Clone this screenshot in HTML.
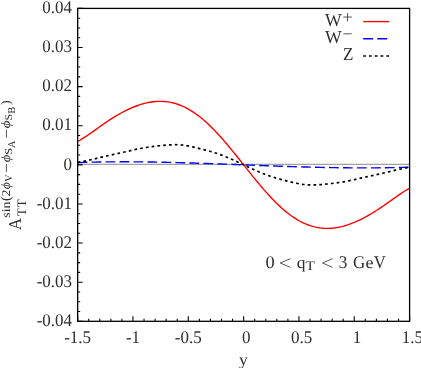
<!DOCTYPE html>
<html><head><meta charset="utf-8"><style>
html,body{margin:0;padding:0;background:#fff;}
svg{display:block;will-change:transform;transform:translateZ(0)}
text{font-family:"Liberation Serif",serif;font-size:17px;fill:#2e2e2e;text-rendering:geometricPrecision}
</style></head><body>
<svg width="421" height="368" viewBox="0 0 421 368">
<rect width="421" height="368" fill="#fff"/>
<line x1="77.65" y1="164.4" x2="409.6" y2="164.4" stroke="#a2a2a2" stroke-width="1.15"/>
<path d="M77.65,141.50 L79.65,140.40 L81.65,139.21 L83.65,137.95 L85.65,136.64 L87.65,135.28 L89.65,133.89 L91.65,132.48 L93.65,131.06 L95.65,129.63 L97.65,128.20 L99.65,126.78 L101.65,125.38 L103.65,123.99 L105.65,122.62 L107.65,121.27 L109.65,119.95 L111.64,118.67 L113.64,117.41 L115.64,116.19 L117.64,115.00 L119.64,113.86 L121.64,112.75 L123.64,111.68 L125.64,110.66 L127.64,109.68 L129.64,108.75 L131.64,107.86 L133.64,107.02 L135.64,106.24 L137.64,105.50 L139.64,104.82 L141.64,104.20 L143.64,103.63 L145.64,103.12 L147.64,102.67 L149.64,102.28 L151.64,101.95 L153.64,101.69 L155.64,101.50 L157.64,101.38 L159.64,101.33 L161.64,101.34 L163.64,101.44 L165.64,101.61 L167.64,101.85 L169.64,102.17 L171.64,102.57 L173.64,103.05 L175.64,103.61 L177.63,104.25 L179.63,104.97 L181.63,105.78 L183.63,106.67 L185.63,107.64 L187.63,108.69 L189.63,109.82 L191.63,111.04 L193.63,112.34 L195.63,113.71 L197.63,115.17 L199.63,116.70 L201.63,118.31 L203.63,119.99 L205.63,121.74 L207.63,123.57 L209.63,125.46 L211.63,127.42 L213.63,129.44 L215.63,131.52 L217.63,133.65 L219.63,135.84 L221.63,138.08 L223.63,140.36 L225.63,142.69 L227.63,145.05 L229.63,147.45 L231.63,149.88 L233.63,152.33 L235.63,154.81 L237.63,157.30 L239.63,159.81 L241.63,162.33 L243.63,164.85 L245.62,167.37 L247.62,169.89 L249.62,172.40 L251.62,174.89 L253.62,177.37 L255.62,179.82 L257.62,182.25 L259.62,184.65 L261.62,187.01 L263.62,189.34 L265.62,191.62 L267.62,193.86 L269.62,196.05 L271.62,198.18 L273.62,200.26 L275.62,202.28 L277.62,204.24 L279.62,206.13 L281.62,207.96 L283.62,209.71 L285.62,211.39 L287.62,213.00 L289.62,214.53 L291.62,215.99 L293.62,217.36 L295.62,218.66 L297.62,219.88 L299.62,221.01 L301.62,222.06 L303.62,223.03 L305.62,223.92 L307.62,224.73 L309.62,225.45 L311.61,226.09 L313.61,226.65 L315.61,227.13 L317.61,227.53 L319.61,227.85 L321.61,228.09 L323.61,228.26 L325.61,228.36 L327.61,228.37 L329.61,228.32 L331.61,228.20 L333.61,228.01 L335.61,227.75 L337.61,227.42 L339.61,227.03 L341.61,226.58 L343.61,226.07 L345.61,225.50 L347.61,224.88 L349.61,224.20 L351.61,223.46 L353.61,222.68 L355.61,221.84 L357.61,220.95 L359.61,220.02 L361.61,219.04 L363.61,218.02 L365.61,216.95 L367.61,215.84 L369.61,214.70 L371.61,213.51 L373.61,212.29 L375.61,211.03 L377.60,209.75 L379.60,208.43 L381.60,207.08 L383.60,205.71 L385.60,204.32 L387.60,202.92 L389.60,201.50 L391.60,200.07 L393.60,198.64 L395.60,197.22 L397.60,195.81 L399.60,194.42 L401.60,193.06 L403.60,191.75 L405.60,190.49 L407.60,189.30 L409.60,188.20" fill="none" stroke="#ff0000" stroke-width="1.4"/>
<path d="M77.65,162.56 L79.65,162.50 L81.65,162.43 L83.65,162.37 L85.65,162.31 L87.65,162.26 L89.65,162.21 L91.65,162.16 L93.65,162.12 L95.65,162.08 L97.65,162.04 L99.65,162.00 L101.65,161.97 L103.65,161.94 L105.65,161.92 L107.65,161.89 L109.65,161.87 L111.64,161.85 L113.64,161.84 L115.64,161.83 L117.64,161.82 L119.64,161.81 L121.64,161.81 L123.64,161.81 L125.64,161.81 L127.64,161.81 L129.64,161.82 L131.64,161.83 L133.64,161.84 L135.64,161.85 L137.64,161.87 L139.64,161.88 L141.64,161.90 L143.64,161.93 L145.64,161.95 L147.64,161.98 L149.64,162.01 L151.64,162.04 L153.64,162.07 L155.64,162.10 L157.64,162.14 L159.64,162.18 L161.64,162.22 L163.64,162.26 L165.64,162.30 L167.64,162.34 L169.64,162.39 L171.64,162.44 L173.64,162.49 L175.64,162.54 L177.63,162.59 L179.63,162.65 L181.63,162.70 L183.63,162.76 L185.63,162.81 L187.63,162.87 L189.63,162.93 L191.63,162.99 L193.63,163.06 L195.63,163.12 L197.63,163.18 L199.63,163.25 L201.63,163.32 L203.63,163.38 L205.63,163.45 L207.63,163.52 L209.63,163.59 L211.63,163.66 L213.63,163.73 L215.63,163.80 L217.63,163.88 L219.63,163.95 L221.63,164.02 L223.63,164.10 L225.63,164.17 L227.63,164.24 L229.63,164.32 L231.63,164.39 L233.63,164.47 L235.63,164.55 L237.63,164.62 L239.63,164.70 L241.63,164.77 L243.63,164.85 L245.62,164.93 L247.62,165.00 L249.62,165.08 L251.62,165.15 L253.62,165.23 L255.62,165.31 L257.62,165.38 L259.62,165.46 L261.62,165.53 L263.62,165.60 L265.62,165.68 L267.62,165.75 L269.62,165.82 L271.62,165.90 L273.62,165.97 L275.62,166.04 L277.62,166.11 L279.62,166.18 L281.62,166.25 L283.62,166.32 L285.62,166.38 L287.62,166.45 L289.62,166.52 L291.62,166.58 L293.62,166.64 L295.62,166.71 L297.62,166.77 L299.62,166.83 L301.62,166.89 L303.62,166.94 L305.62,167.00 L307.62,167.05 L309.62,167.11 L311.61,167.16 L313.61,167.21 L315.61,167.26 L317.61,167.31 L319.61,167.36 L321.61,167.40 L323.61,167.44 L325.61,167.48 L327.61,167.52 L329.61,167.56 L331.61,167.60 L333.61,167.63 L335.61,167.66 L337.61,167.69 L339.61,167.72 L341.61,167.75 L343.61,167.77 L345.61,167.80 L347.61,167.82 L349.61,167.83 L351.61,167.85 L353.61,167.86 L355.61,167.87 L357.61,167.88 L359.61,167.89 L361.61,167.89 L363.61,167.89 L365.61,167.89 L367.61,167.89 L369.61,167.88 L371.61,167.87 L373.61,167.86 L375.61,167.85 L377.60,167.83 L379.60,167.81 L381.60,167.78 L383.60,167.76 L385.60,167.73 L387.60,167.70 L389.60,167.66 L391.60,167.62 L393.60,167.58 L395.60,167.54 L397.60,167.49 L399.60,167.44 L401.60,167.39 L403.60,167.33 L405.60,167.27 L407.60,167.20 L409.60,167.14" fill="none" stroke="#0000ff" stroke-width="1.4" stroke-dasharray="9.7 4.27"/>
<path d="M77.65,162.39 L79.65,162.05 L81.65,161.69 L83.65,161.30 L85.65,160.89 L87.65,160.46 L89.65,160.01 L91.65,159.55 L93.65,159.08 L95.65,158.60 L97.65,158.11 L99.65,157.63 L101.65,157.14 L103.65,156.66 L105.65,156.19 L107.65,155.72 L109.65,155.27 L111.64,154.83 L113.64,154.40 L115.64,153.97 L117.64,153.54 L119.64,153.11 L121.64,152.67 L123.64,152.23 L125.64,151.77 L127.64,151.31 L129.64,150.84 L131.64,150.37 L133.64,149.90 L135.64,149.45 L137.64,149.02 L139.64,148.60 L141.64,148.22 L143.64,147.88 L145.64,147.56 L147.64,147.27 L149.64,146.99 L151.64,146.73 L153.64,146.46 L155.64,146.20 L157.64,145.96 L159.64,145.72 L161.64,145.51 L163.64,145.31 L165.64,145.15 L167.64,145.01 L169.64,144.89 L171.64,144.80 L173.64,144.74 L175.64,144.72 L177.63,144.75 L179.63,144.83 L181.63,144.99 L183.63,145.20 L185.63,145.48 L187.63,145.81 L189.63,146.20 L191.63,146.63 L193.63,147.09 L195.63,147.58 L197.63,148.09 L199.63,148.61 L201.63,149.12 L203.63,149.63 L205.63,150.14 L207.63,150.67 L209.63,151.22 L211.63,151.80 L213.63,152.41 L215.63,153.04 L217.63,153.71 L219.63,154.41 L221.63,155.14 L223.63,155.91 L225.63,156.70 L227.63,157.52 L229.63,158.38 L231.63,159.25 L233.63,160.15 L235.63,161.07 L237.63,162.00 L239.63,162.94 L241.63,163.90 L243.63,164.85 L245.62,165.80 L247.62,166.76 L249.62,167.70 L251.62,168.63 L253.62,169.55 L255.62,170.45 L257.62,171.32 L259.62,172.18 L261.62,173.00 L263.62,173.79 L265.62,174.56 L267.62,175.29 L269.62,175.99 L271.62,176.66 L273.62,177.29 L275.62,177.90 L277.62,178.48 L279.62,179.03 L281.62,179.56 L283.62,180.07 L285.62,180.58 L287.62,181.09 L289.62,181.61 L291.62,182.12 L293.62,182.61 L295.62,183.07 L297.62,183.50 L299.62,183.89 L301.62,184.22 L303.62,184.50 L305.62,184.71 L307.62,184.87 L309.62,184.95 L311.61,184.98 L313.61,184.96 L315.61,184.90 L317.61,184.81 L319.61,184.69 L321.61,184.55 L323.61,184.39 L325.61,184.19 L327.61,183.98 L329.61,183.74 L331.61,183.50 L333.61,183.24 L335.61,182.97 L337.61,182.71 L339.61,182.43 L341.61,182.14 L343.61,181.82 L345.61,181.48 L347.61,181.10 L349.61,180.68 L351.61,180.25 L353.61,179.80 L355.61,179.33 L357.61,178.86 L359.61,178.39 L361.61,177.93 L363.61,177.47 L365.61,177.03 L367.61,176.59 L369.61,176.16 L371.61,175.73 L373.61,175.30 L375.61,174.87 L377.60,174.43 L379.60,173.98 L381.60,173.51 L383.60,173.04 L385.60,172.56 L387.60,172.07 L389.60,171.59 L391.60,171.10 L393.60,170.62 L395.60,170.15 L397.60,169.69 L399.60,169.24 L401.60,168.81 L403.60,168.40 L405.60,168.01 L407.60,167.65 L409.60,167.31" fill="none" stroke="#000" stroke-width="1.7" stroke-dasharray="2.7 3.12"/>
<rect x="77.65" y="8.4" width="331.95" height="312.90" fill="none" stroke="#000" stroke-width="1.3"/>
<path d="M77.65,321.30h5.0M77.65,311.52h2.5M77.65,301.74h2.5M77.65,291.97h2.5M77.65,282.19h5.0M77.65,272.41h2.5M77.65,262.63h2.5M77.65,252.85h2.5M77.65,243.07h5.0M77.65,233.30h2.5M77.65,223.52h2.5M77.65,213.74h2.5M77.65,203.96h5.0M77.65,194.18h2.5M77.65,184.41h2.5M77.65,174.63h2.5M77.65,164.85h5.0M77.65,155.07h2.5M77.65,145.29h2.5M77.65,135.52h2.5M77.65,125.74h5.0M77.65,115.96h2.5M77.65,106.18h2.5M77.65,96.40h2.5M77.65,86.62h5.0M77.65,76.85h2.5M77.65,67.07h2.5M77.65,57.29h2.5M77.65,47.51h5.0M77.65,37.73h2.5M77.65,27.96h2.5M77.65,18.18h2.5M77.65,8.40h5.0M77.65,321.30v-5.0M88.72,321.30v-2.5M99.78,321.30v-2.5M110.85,321.30v-2.5M121.91,321.30v-2.5M132.98,321.30v-5.0M144.04,321.30v-2.5M155.11,321.30v-2.5M166.17,321.30v-2.5M177.24,321.30v-2.5M188.30,321.30v-5.0M199.37,321.30v-2.5M210.43,321.30v-2.5M221.50,321.30v-2.5M232.56,321.30v-2.5M243.63,321.30v-5.0M254.69,321.30v-2.5M265.76,321.30v-2.5M276.82,321.30v-2.5M287.89,321.30v-2.5M298.95,321.30v-5.0M310.02,321.30v-2.5M321.08,321.30v-2.5M332.15,321.30v-2.5M343.21,321.30v-2.5M354.28,321.30v-5.0M365.34,321.30v-2.5M376.41,321.30v-2.5M387.47,321.30v-2.5M398.54,321.30v-2.5M409.60,321.30v-5.0" fill="none" stroke="#000" stroke-width="1.1"/>
<text transform="translate(72.1,326.00) scale(1,1.05)" text-anchor="end">-0.04</text><text transform="translate(72.1,286.89) scale(1,1.05)" text-anchor="end">-0.03</text><text transform="translate(72.1,247.77) scale(1,1.05)" text-anchor="end">-0.02</text><text transform="translate(72.1,208.66) scale(1,1.05)" text-anchor="end">-0.01</text><text transform="translate(72.1,169.55) scale(1,1.05)" text-anchor="end">0</text><text transform="translate(72.1,130.44) scale(1,1.05)" text-anchor="end">0.01</text><text transform="translate(72.1,91.33) scale(1,1.05)" text-anchor="end">0.02</text><text transform="translate(72.1,52.21) scale(1,1.05)" text-anchor="end">0.03</text><text transform="translate(72.1,13.10) scale(1,1.05)" text-anchor="end">0.04</text>
<text transform="translate(77.65,343.0) scale(1,1.05)" text-anchor="middle">-1.5</text><text transform="translate(132.98,343.0) scale(1,1.05)" text-anchor="middle">-1</text><text transform="translate(188.30,343.0) scale(1,1.05)" text-anchor="middle">-0.5</text><text transform="translate(246.33,343.0) scale(1,1.05)" text-anchor="middle">0</text><text transform="translate(301.65,343.0) scale(1,1.05)" text-anchor="middle">0.5</text><text transform="translate(356.98,343.0) scale(1,1.05)" text-anchor="middle">1</text><text transform="translate(412.30,343.0) scale(1,1.05)" text-anchor="middle">1.5</text>
<text transform="translate(243.4,365.2) scale(1.03,0.97)" text-anchor="middle">y</text>
<!-- legend -->
<text transform="translate(325.10,26.25) scale(1.044,1.07)" x="-0.02" y="0" style="font-size:17px">W</text><text transform="translate(325.10,43.25) scale(1.044,1.07)" x="-0.02" y="0" style="font-size:17px">W</text><text transform="translate(343.80,60.10) scale(1.001,1.07)" x="-0.81" y="0" style="font-size:17px">Z</text><path d="M343.3,17.05H351.8M347.55,12.9V21.3M343.3,33.8H351.7" stroke="#222" stroke-width="0.75" fill="none"/>
<line x1="363.2" y1="21.6" x2="389.2" y2="21.6" stroke="#ff0000" stroke-width="1.4"/>
<line x1="363.2" y1="38.7" x2="389.2" y2="38.7" stroke="#0000ff" stroke-width="1.4" stroke-dasharray="9.9 4.2"/>
<line x1="363.2" y1="56.0" x2="389.2" y2="56.0" stroke="#000" stroke-width="1.7" stroke-dasharray="2.7 3.1"/>
<!-- annotation -->
<text transform="translate(266.20,267.70) scale(1.083,1.05)" x="-0.65" y="0" style="font-size:17px">0</text><path d="M290.50,258.60L280.20,263.00L290.50,267.40" fill="none" stroke="#222" stroke-width="0.75" stroke-linejoin="miter"/><text transform="translate(297.30,267.50) scale(1.029,0.98)" x="-0.61" y="0" style="font-size:17px">q</text><text transform="translate(305.70,269.80) scale(1.232,1.05)" x="-0.22" y="0" style="font-size:12.4px">T</text><path d="M332.70,258.60L322.50,263.00L332.70,267.40" fill="none" stroke="#222" stroke-width="0.75" stroke-linejoin="miter"/><text transform="translate(339.60,267.70) scale(1.011,1.05)" x="-0.81" y="0" style="font-size:17px">3</text><text transform="translate(353.60,267.70) scale(0.996,1.05)" x="-0.70" y="0" style="font-size:17px">G</text><text transform="translate(366.20,267.60) scale(1.065,0.98)" x="-0.66" y="0" style="font-size:17px">e</text><text transform="translate(373.90,267.70) scale(0.984,1.05)" x="-0.19" y="0" style="font-size:17px">V</text>
<!-- y label -->
<g transform="translate(0,229.65) rotate(-90)">
<text transform="translate(-0.50,21.20) scale(1.009,1.07)" x="-0.17" y="0" style="font-size:17px">A</text><text transform="translate(13.55,26.00) scale(1.064,1.04)" x="-0.22" y="0" style="font-size:12.4px">T</text><text transform="translate(22.65,26.00) scale(1.036,1.04)" x="-0.22" y="0" style="font-size:12.4px">T</text><text transform="translate(12.55,9.60) scale(1.140,1.0)" x="-0.49" y="0" style="font-size:12.0px">sin</text><text transform="translate(29.35,9.90) scale(1.168,1.12)" x="-0.53" y="0" style="font-size:12.0px">(</text><text transform="translate(33.65,9.60) scale(1.143,1.0)" x="-0.53" y="0" style="font-size:12.0px">2</text><text transform="translate(40.75,9.50) scale(1.086,1.0)" x="-0.29" y="0" style="font-size:12.7px;font-style:italic">ϕ</text><text transform="translate(47.95,11.50) scale(0.976,1.0)" x="-0.12" y="0" style="font-size:10.4px">V</text><text transform="translate(67.75,9.50) scale(1.170,1.0)" x="-0.29" y="0" style="font-size:12.7px;font-style:italic">ϕ</text><text transform="translate(75.45,12.10) scale(1.260,1.0)" x="-0.70" y="0" style="font-size:10.4px">S</text><text transform="translate(81.65,15.00) scale(0.982,1.0)" x="-0.10" y="0" style="font-size:10.4px">A</text><text transform="translate(101.75,9.50) scale(1.195,1.0)" x="-0.29" y="0" style="font-size:12.7px;font-style:italic">ϕ</text><text transform="translate(109.95,12.10) scale(1.170,1.0)" x="-0.70" y="0" style="font-size:10.4px">S</text><text transform="translate(116.25,15.00) scale(1.028,1.0)" x="-0.30" y="0" style="font-size:10.4px">B</text><text transform="translate(125.15,9.90) scale(1.168,1.12)" x="-0.39" y="0" style="font-size:12.0px">)</text><path d="M57.75,6.45H65.55M91.95,6.45H99.75" stroke="#222" stroke-width="0.75" fill="none"/>
</g>
</svg>
</body></html>
